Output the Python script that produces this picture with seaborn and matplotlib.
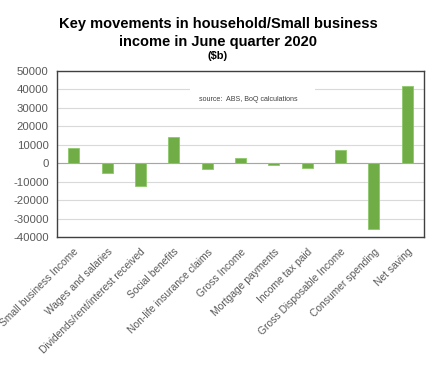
import matplotlib
matplotlib.use("Agg")
import matplotlib.pyplot as plt
import matplotlib.patches as mpatches
import seaborn as sns
import pandas as pd

categories = ["Small business Income", "Wages and salaries", "Dividends/rent/interest received",
              "Social benefits", "Non-life insurance claims", "Gross Income", "Mortgage payments",
              "Income tax paid", "Gross Disposable Income", "Consumer spending", "Net saving"]
values = [8000, -5500, -12300, 14100, -3000, 2900, -1200, -2600, 7000, -35500, 41800]
yticks = list(range(-40000, 50001, 10000))

sns.set_theme(style="white")
plt.rcParams['font.family'] = ['Liberation Sans', 'DejaVu Sans']

df = pd.DataFrame({"cat": categories, "val": values})
fig = plt.figure(figsize=(4.36, 3.72), dpi=100)
ax = fig.add_axes([57/436, 1 - 237/372, (424-57)/436, (237-71)/372])
sns.barplot(data=df, x="cat", y="val", color="#70AD47", width=0.33, ax=ax,
            edgecolor="#8CC96A", linewidth=0.6, saturation=1, zorder=3)
ax.set_ylim(-40000, 50000)
ax.set_yticks(yticks)
ax.set_yticklabels([str(t) for t in yticks], fontsize=8.2, color="#595959")
ax.set_xticks(range(len(categories)))
ax.set_xticklabels(categories, rotation=45, ha="right", rotation_mode="anchor",
                   fontsize=7.4, color="#595959")
ax.tick_params(axis="y", length=0, pad=6)
ax.tick_params(axis="x", length=0, pad=7)
ax.set_xlabel("")
ax.set_ylabel("")
ax.grid(axis="y", color="#D9D9D9", linewidth=0.8, zorder=0)
ax.axhline(0, color="#A6A6A6", linewidth=0.8, zorder=2)
for s in ax.spines.values():
    s.set_color("#404040")
    s.set_linewidth(1.0)
ax.add_patch(mpatches.Rectangle((0.362, 0.80), 0.341, 0.13, transform=ax.transAxes,
                                facecolor="white", edgecolor="none", zorder=1))
ax.text(0.522, 0.83, "source:  ABS, BoQ calculations", transform=ax.transAxes,
        ha="center", va="center", fontsize=5.1, color="#404040", zorder=4)

fig.text(0.5, 1 - 33/372, "Key movements in household/Small business\nincome in June quarter 2020",
         ha="center", va="center", fontsize=10.5, fontweight="bold", color="#000000", linespacing=1.3)
fig.text(0.5, 1 - 56/372, "($b)", ha="center", va="center", fontsize=8, fontweight="bold", color="#000000")

fig.savefig("out.png", dpi=100)
